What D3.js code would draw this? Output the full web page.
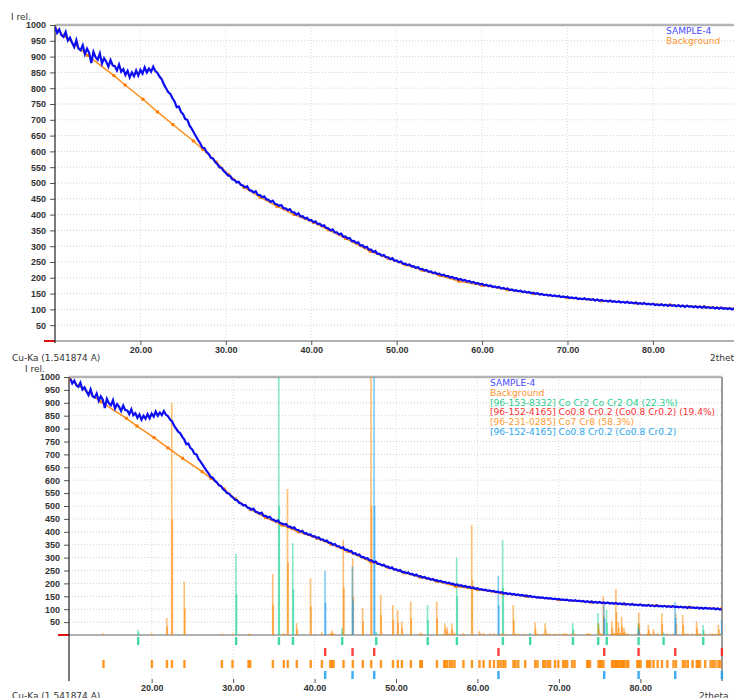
<!DOCTYPE html>
<html lang="en">
<head>
<meta charset="utf-8" />
<title>SAMPLE-4</title>
<script src="https://cdn.jsdelivr.net/npm/d3@7"></script>
<style>
    body { margin: 0; background: #fff; }
    svg { display: block; font-family: "Liberation Sans", Arial, sans-serif; }
    .ax text { font-size: 9px; font-weight: bold; fill: #333; }
    .ax line { stroke: #555; }
    .ax path { display: none; }
    .lbl { font-family: "DejaVu Sans", sans-serif; font-size: 9px; fill: #333; }
    .leg { font-family: "DejaVu Sans", sans-serif; font-size: 9.1px; }
</style>
</head>
<body>
<svg id="canvas" width="734" height="698"></svg>
<script>
// measured pattern, 2theta from 10 to 90 in 0.25 steps (one row per degree)
var scanStart = 10, scanStep = 0.25;
var sampleCounts = [
    994, 975, 986, 968,   962, 978, 951, 960,   944, 930, 952, 925,   920, 936, 908, 925,
    912, 880, 915, 898,   890, 910, 878, 895,   884, 868, 889, 872,   870, 856, 875, 852,
    860, 842, 855, 834,   850, 838, 856, 840,   858, 846, 866, 850,   862, 852, 868, 854,
    848, 836, 828, 812,   800, 788, 782, 768,   758, 740, 742, 725,   718, 702, 700, 682,
    672, 660, 648, 636,   626, 612, 610, 598,   592, 580, 578, 566,   560, 550, 548, 538,
    532, 524, 522, 512,   510, 502, 504, 494,   492, 486, 490, 478,   476, 470, 474, 462,
    462, 455, 458, 448,   447, 440, 444, 434,   432, 428, 430, 420,   420, 414, 417, 408,
    407, 400, 404, 394,   395, 388, 390, 382,   383, 376, 379, 370,   371, 364, 366, 358,
    357, 350, 353, 344,   344, 337, 340, 330,   331, 324, 326, 316,   317, 310, 312, 302,
    303, 296, 298, 289,   289, 282, 285, 276,   276, 270, 272, 265,   265, 259, 262, 254,
    255, 249, 252, 244,   245, 240, 242, 236,   237, 231, 234, 227,   228, 223, 225, 219,
    220, 215, 217, 212,   213, 208, 210, 205,   206, 201, 203, 198,   199, 194, 196, 191,
    193, 188, 190, 185,   187, 182, 184, 179,   181, 176, 178, 174,   176, 171, 173, 169,
    171, 166, 168, 164,   166, 161, 163, 159,   161, 157, 159, 155,   157, 153, 155, 151,
    153, 149, 151, 147,   149, 145, 147, 144,   146, 142, 144, 141,   143, 139, 141, 138,
    140, 136, 138, 135,   137, 133, 135, 132,   135, 131, 133, 130,   132, 128, 131, 127,
    130, 126, 128, 125,   128, 124, 126, 123,   126, 122, 124, 121,   124, 120, 122, 119,
    122, 118, 120, 117,   120, 116, 118, 115,   118, 114, 116, 113,   116, 112, 115, 111,
    115, 111, 113, 110,   113, 109, 112, 108,   112, 108, 110, 107,   110, 106, 109, 105,
    109, 105, 107, 104,   107, 103, 106, 102,   106, 102, 104, 101,   104, 100, 103, 99,
    101
];

// background control points
var bgTheta  = [10, 13.8, 16.9, 18.2, 20.3, 22.0, 23.8, 26.2, 27.3, 28.9, 30.3, 32.1, 34, 36, 38, 40.3, 42, 44, 46.9, 49, 51, 53, 55, 57.3, 60, 63, 66, 70, 74, 78, 82, 86, 90];
var bgCounts = [990, 904, 840, 810, 765, 725, 685, 633, 607, 566, 527, 487, 455, 426, 400, 375, 352, 325, 284, 262, 241, 224, 208, 189, 176, 162, 150, 137, 127, 120, 114, 108, 102];

// phase cards
var greenTheta = [18.32, 30.35, 35.6, 37.32, 43.37, 47.55, 53.87, 57.45, 63.1, 66.45, 71.7, 74.8, 75.85, 79.76, 82.83, 87.7];
var greenInt   = [20, 314, 1000, 356, 27, 12, 116, 300, 368, 8, 46, 85, 97, 46, 10, 39];

var redTheta = [41.28, 44.64, 47.3, 62.56, 75.54, 79.76, 84.26, 89.99];

var orangeTheta = [14.06, 20.0, 21.85, 22.46, 24.0, 28.6, 29.9, 31.87, 32.07, 34.86, 36.2, 36.68, 37.8, 39.5, 40.88, 41.9, 42.1, 42.3, 43.53, 44.68,
    45.9, 46.93, 48.12, 49.6, 50.2, 50.7, 51.8, 52.95, 53.15, 55.0, 55.9, 56.0, 56.27, 56.6, 56.84, 57.16, 58.26, 59.3, 60.23, 60.72,
    61.5, 62.0, 62.5, 62.8, 63.1, 63.4, 64.4, 64.65, 64.98, 65.84, 67.07, 67.35, 68.05, 68.3, 68.6, 68.9, 69.5, 69.9, 70.5, 70.75,
    71.0, 71.6, 71.9, 73.45, 73.6, 73.8, 74.84, 75.05, 75.2, 75.45, 76.5, 76.65, 76.9, 77.0, 77.15, 77.3, 77.5, 77.7, 77.9, 78.0,
    78.3, 78.5, 79.6, 79.8, 80.0, 80.8, 80.98, 81.2, 81.6, 82.1, 82.63, 83.3, 84.05, 84.35, 85.2, 85.5, 85.8, 86.4, 86.9, 87.05,
    87.3, 87.94, 88.6, 88.9, 89.2, 89.58, 89.8];
var orangeInt = [6, 6, 66, 900, 206, 5, 5, 5, 4, 236, 8, 566, 46, 220, 10, 6, 17, 6, 368, 297,
    104, 1000, 155, 116, 97, 52, 129, 9, 6, 129, 6, 46, 30, 6, 45, 10, 8, 426, 15, 8,
    6, 6, 6, 5, 5, 5, 116, 6, 6, 5, 48, 6, 6, 46, 6, 5, 6, 5, 6, 6,
    5, 5, 6, 6, 6, 6, 46, 6, 6, 151, 52, 8, 8, 177, 8, 52, 8, 71, 8, 27,
    6, 6, 6, 87, 6, 6, 39, 6, 22, 6, 84, 6, 6, 84, 78, 6, 6, 6, 52, 6,
    6, 6, 6, 6, 6, 40, 6];

var blueTheta = [41.28, 44.64, 47.3, 62.56, 75.54, 79.76, 84.26, 89.99];
var blueInt   = [249, 265, 1000, 230, 129, 30, 129, 60];

var yTicks = d3.range(50, 1001, 50);
var xTicks = [20, 30, 40, 50, 60, 70, 80];
var topLegend = ["SAMPLE-4", "Background"];
var bottomLegend = [
    "SAMPLE-4",
    "Background",
    "[96-153-8332] Co Cr2 Co Cr2 O4 (22.3%)",
    "[96-152-4165] Co0.8 Cr0.2 (Co0.8 Cr0.2) (19.4%)",
    "[96-231-0285] Co7 Cr8  (58.3%)",
    "[96-152-4165] Co0.8 Cr0.2 (Co0.8 Cr0.2)"
];
var legendColors = ["#4b4bff", "#ff9430", "#27cf8e", "#ff3030", "#ff9a30", "#2aa6ee"];

var sample = sampleCounts.map(function (v, i) { return [scanStart + i * scanStep, v]; });
var background = bgTheta.map(function (t, i) { return [t, bgCounts[i]]; });

var svg = d3.select("#canvas");

function panel(o) {
    var x = d3.scaleLinear().domain(o.xDomain).range([o.left, o.right]);
    var y = d3.scaleLinear().domain([0, 1000]).range([o.base, o.top]);
    var g = svg.append("g");

    svg.append("clipPath").attr("id", "clip" + o.id).append("rect")
        .attr("x", o.left).attr("y", o.top - 1)
        .attr("width", o.frameRight - o.left).attr("height", o.base - o.top + 2);

    // dotted grid
    g.append("g").selectAll("line").data(yTicks.slice(0, -1)).join("line")
        .attr("x1", o.left).attr("x2", o.frameRight)
        .attr("y1", function (d) { return y(d); }).attr("y2", function (d) { return y(d); })
        .attr("stroke", "#cfcfcf").attr("stroke-dasharray", "1,2");
    g.append("g").selectAll("line").data(xTicks).join("line")
        .attr("x1", function (d) { return x(d); }).attr("x2", function (d) { return x(d); })
        .attr("y1", o.top).attr("y2", o.axisY)
        .attr("stroke", "#dcdcdc").attr("stroke-dasharray", "1,2");

    // frame
    g.append("line").attr("x1", o.left).attr("x2", o.frameRight)
        .attr("y1", o.top).attr("y2", o.top).attr("stroke", "#b4b4b4").attr("stroke-width", 2.5);
    if (o.rightBorder) {
        g.append("line").attr("x1", o.frameRight).attr("x2", o.frameRight)
            .attr("y1", o.top).attr("y2", o.axisY + 2).attr("stroke", "#9a9a9a").attr("stroke-width", 2);
    }
    g.append("line").attr("x1", o.left).attr("x2", o.frameRight)
        .attr("y1", o.base).attr("y2", o.base).attr("stroke", "#b0b0b0").attr("stroke-width", 2);
    g.append("line").attr("x1", o.left - 11).attr("x2", o.left)
        .attr("y1", o.base).attr("y2", o.base).attr("stroke", "#e01010").attr("stroke-width", 2);

    // axes
    g.append("g").attr("class", "ax").attr("transform", "translate(" + o.left + ",0)")
        .call(d3.axisLeft(y).tickValues(yTicks).tickSize(5).tickPadding(4).tickFormat(d3.format("d")));
    g.append("line").attr("x1", o.left).attr("x2", o.left)
        .attr("y1", o.top).attr("y2", o.axisY + 2).attr("stroke", "#222").attr("stroke-width", 1.2);
    g.append("g").attr("class", "ax").attr("transform", "translate(0," + o.axisY + ")")
        .call(d3.axisBottom(x).tickValues(xTicks).tickSize(4).tickPadding(2).tickFormat(d3.format(".2f")));

    g.append("text").attr("class", "lbl").attr("x", o.left - 44).attr("y", o.top - 5).text("I rel.");
    g.append("text").attr("class", "lbl").attr("x", 12).attr("y", o.axisY + 20).text("Cu-Ka (1.541874 A)");
    g.append("text").attr("class", "lbl").attr("x", o.thetaX).attr("y", o.axisY + 20).text("2theta");

    return { g: g, x: x, y: y };
}

function drawPatterns(p, id) {
    var inner = p.g.append("g").attr("clip-path", "url(#clip" + id + ")");
    var line = d3.line().x(function (d) { return p.x(d[0]); }).y(function (d) { return p.y(d[1]); });

    inner.append("path").datum(background).attr("d", line)
        .attr("fill", "none").attr("stroke", "#ff8c1a").attr("stroke-width", 1.5);
    inner.append("g").selectAll("rect").data(background).join("rect")
        .attr("x", function (d) { return p.x(d[0]) - 1.5; }).attr("y", function (d) { return p.y(d[1]) - 1.5; })
        .attr("width", 3).attr("height", 3).attr("fill", "#ff7a00");
    inner.append("path").datum(sample).attr("d", line)
        .attr("fill", "none").attr("stroke", "#0d0df2").attr("stroke-width", 2.2)
        .attr("stroke-linejoin", "miter");
    return inner;
}

// top panel
var topPanel = panel({ id: "a", xDomain: [10, 90.2], left: 55, right: 740, frameRight: 734,
                       top: 25, base: 341, axisY: 341, thetaX: 710 });
drawPatterns(topPanel, "a");
topPanel.g.selectAll(".tleg").data(topLegend).join("text").attr("class", "leg")
    .attr("x", 666).attr("y", function (d, i) { return 34 + i * 10; })
    .attr("fill", function (d, i) { return legendColors[i]; }).text(function (d) { return d; });

// bottom panel
var botPanel = panel({ id: "b", xDomain: [9.85, 90.15], left: 69, right: 723, frameRight: 722,
                       top: 377, base: 635, axisY: 679, thetaX: 699, rightBorder: true });

// reference sticks: K-alpha1 at full height, K-alpha2 at half height
var phases = [
    { theta: greenTheta, inten: greenInt, color: "#1fd495", row: 637 },
    { theta: redTheta, inten: null, color: "#ff2020", row: 648 },
    { theta: orangeTheta, inten: orangeInt, color: "#ff8600", row: 660 },
    { theta: blueTheta, inten: blueInt, color: "#1a9ff0", row: 671 }
];
var sticks = botPanel.g.append("g").attr("clip-path", "url(#clipb)");
phases.forEach(function (ph) {
    if (ph.inten) {
        var pk = ph.theta.map(function (t, i) { return [t, ph.inten[i]]; });
        sticks.append("g").selectAll("line").data(pk).join("line")
            .attr("x1", function (d) { return botPanel.x(d[0]); }).attr("x2", function (d) { return botPanel.x(d[0]); })
            .attr("y1", botPanel.y(0)).attr("y2", function (d) { return botPanel.y(d[1]); })
            .attr("stroke", ph.color).attr("stroke-width", 1.6).attr("stroke-opacity", 0.55);
        sticks.append("g").selectAll("line").data(pk).join("line")
            .attr("x1", function (d) { return botPanel.x(d[0]) + 0.6; }).attr("x2", function (d) { return botPanel.x(d[0]) + 0.6; })
            .attr("y1", botPanel.y(0)).attr("y2", function (d) { return botPanel.y(d[1] / 2); })
            .attr("stroke", ph.color).attr("stroke-width", 1.6).attr("stroke-opacity", 0.6);
    }
    botPanel.g.append("g").selectAll("rect").data(ph.theta.filter(function (t) { return t <= 90; })).join("rect")
        .attr("x", function (d) { return botPanel.x(d) - 1; }).attr("y", ph.row)
        .attr("width", 2.4).attr("height", 8).attr("fill", ph.color).attr("fill-opacity", 0.85);
});

drawPatterns(botPanel, "b");
botPanel.g.selectAll(".bleg").data(bottomLegend).join("text").attr("class", "leg")
    .attr("x", 490).attr("y", function (d, i) { return 386 + i * 9.8; })
    .attr("fill", function (d, i) { return legendColors[i]; }).text(function (d) { return d; });
</script>
</body>
</html>
